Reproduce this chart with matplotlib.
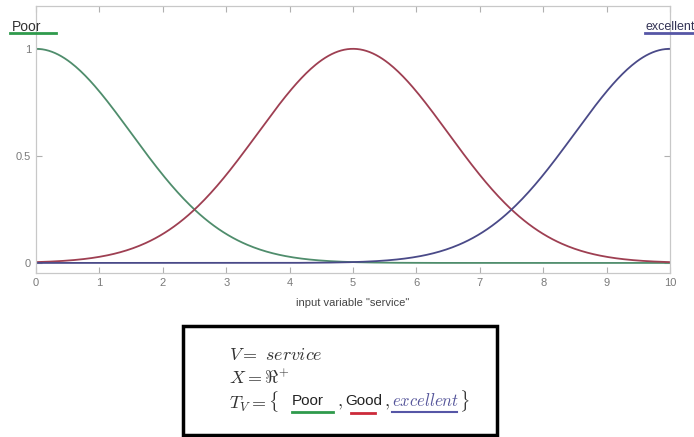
import numpy as np
import matplotlib
matplotlib.use("Agg")
import matplotlib.pyplot as plt
from matplotlib.patches import Rectangle
from matplotlib.lines import Line2D

plt.rcParams['font.family'] = ['Liberation Sans', 'DejaVu Sans']
plt.rcParams['mathtext.fontset'] = 'cm'

W, H = 694, 437

# gaussian membership functions for "service"
terms = ['Poor', 'Good', 'excellent']
centers = [0.0, 5.0, 10.0]
sigmas = [1.5, 1.5, 1.5]
curve_colors = ['#4f8d6c', '#9e3f52', '#4a4a88']
mark_colors = ['#2f9a4c', '#cc2a3a', '#5656a6']

xticks = [0, 1, 2, 3, 4, 5, 6, 7, 8, 9, 10]
yticks = [0, 0.5, 1]
ytick_labels = ['0', '0.5', '1']


def px(x, y):
    # pixel position -> figure fraction
    return x / W, 1 - y / H


def gaussmf(x, c, s):
    return np.exp(-(x - c) ** 2 / (2 * s ** 2))


fig = plt.figure(figsize=(W / 100, H / 100), dpi=100)
ax = fig.add_axes([36 / W, 1 - 273 / H, 634 / W, 267 / H])

x = np.linspace(0, 10, 400)
for c, s, col in zip(centers, sigmas, curve_colors):
    ax.plot(x, gaussmf(x, c, s), color=col, lw=1.3)

ax.set_xlim(0, 10)
ax.set_ylim(-0.047, 1.20)
ax.set_xticks(xticks)
ax.set_yticks(yticks)
ax.set_yticklabels(ytick_labels)
ax.tick_params(direction='in', length=4, color='#b0b0b0', labelcolor='#7a7a7a',
               labelsize=8, top=True, right=True)
for sp in ax.spines.values():
    sp.set_color('#c8c8c8')
    sp.set_linewidth(0.9)
ax.set_xlabel('input variable "service"', fontsize=8, color='#444444', labelpad=7)

# term names above the plot
fig.text(*px(12, 27), terms[0], fontsize=10, color='#333333', va='center', ha='left')
fig.add_artist(Line2D([10 / W, 56 / W], [1 - 33 / H] * 2, color=mark_colors[0], lw=2))
fig.text(*px(646, 27), terms[2], fontsize=9, color='#333355', va='center', ha='left')
fig.add_artist(Line2D([645 / W, 694 / W], [1 - 33 / H] * 2, color=mark_colors[2], lw=2))

# linguistic variable definition box
fig.add_artist(Rectangle(px(183, 435), 314 / W, 109 / H, fill=False,
                         edgecolor='black', lw=2.5))
mcol = '#333333'
fig.text(*px(229, 355), r'$V =\ service$', fontsize=13, color=mcol, va='center')
fig.text(*px(229, 379), r'$X = \Re^{+}$', fontsize=13, color=mcol, va='center')
fig.text(*px(229, 401), r'$T_V = \{$', fontsize=13, color=mcol, va='center')
fig.text(*px(292, 401), terms[0], fontsize=11, color='#222222', va='center')
fig.add_artist(Line2D([292 / W, 333 / W], [1 - 412 / H] * 2, color=mark_colors[0], lw=2))
fig.text(*px(337, 403), r'$,$', fontsize=13, color=mcol, va='center')
fig.text(*px(345, 401), terms[1], fontsize=11, color='#222222', va='center')
fig.add_artist(Line2D([351 / W, 375 / W], [1 - 413 / H] * 2, color=mark_colors[1], lw=2))
fig.text(*px(384, 403), r'$,$', fontsize=13, color=mcol, va='center')
fig.text(*px(392, 401), r'$%s$' % terms[2], fontsize=12, color='#55559a', va='center')
fig.add_artist(Line2D([392 / W, 457 / W], [1 - 412 / H] * 2, color=mark_colors[2], lw=1.5))
fig.text(*px(459, 401), r'$\}$', fontsize=13, color=mcol, va='center')

fig.savefig('out.png', dpi=100)
